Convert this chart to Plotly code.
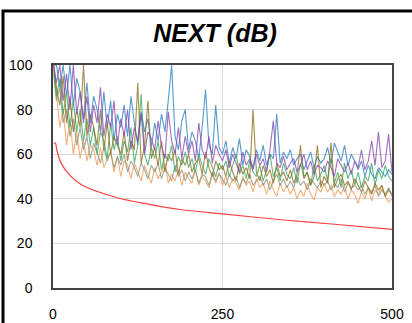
import plotly.graph_objects as go

# Frequency grid (MHz)
FREQ = [1] + list(range(5, 501, 5))

ORANGE = [100, 88, 72, 80, 64, 76, 60, 70, 58, 66,
          57, 64, 62, 55, 63, 54, 58, 61, 52, 59,
          50, 57, 55, 49, 56, 52, 48, 55, 51, 47,
          54, 49, 52, 56, 47, 51, 48, 53, 46, 52,
          49, 47, 53, 46, 50, 48, 45, 51, 47, 52,
          46, 50, 45, 49, 47, 44, 50, 46, 48, 43,
          49, 45, 47, 42, 48, 44, 41, 47, 43, 46,
          42, 45, 40, 44, 41, 47, 42, 39.5, 45, 43,
          47, 43, 46, 41, 44, 42, 46, 40, 44, 42,
          38, 43, 40, 45, 39, 44, 42, 46, 41, 38.5,
          40]

BLUE = [100, 100, 90, 100, 86, 100, 82, 94, 88, 76,
        92, 74, 86, 80, 70, 88, 72, 84, 66, 78,
        72, 82, 68, 86, 74, 64, 79, 70, 76, 63,
        74, 66, 78, 70, 84, 100, 68, 62, 75, 80,
        62, 70, 66, 58, 72, 89, 64, 60, 82, 63,
        60, 66, 56, 63, 58, 67, 55, 62, 59, 54,
        62, 57, 64, 55, 60, 58, 78, 56, 61, 58,
        62, 55, 58, 60, 53, 57, 61, 54, 59, 56,
        58, 63, 56, 65, 61, 57, 64, 55, 60, 57,
        53, 57, 50, 55, 51, 49, 54, 52, 50, 53,
        51]

PURPLE = [100, 92, 100, 84, 96, 80, 100, 78, 88, 74,
          86, 70, 82, 74, 90, 68, 78, 72, 84, 64,
          76, 68, 80, 62, 72, 66, 78, 60, 70, 67,
          62, 75, 64, 58, 79, 66, 60, 72, 58, 68,
          60, 66, 57, 74, 62, 58, 68, 56, 64, 60,
          57, 62, 54, 60, 56, 52, 61, 55, 58, 53,
          60, 55, 58, 52, 62, 75, 56, 54, 59, 53,
          56, 58, 52, 55, 60, 53, 57, 51, 55, 54,
          52, 57, 54, 50, 58, 55, 52, 56, 51, 57,
          54, 62, 53, 57, 66, 55, 70, 54, 57, 69,
          52]

GREEN = [98, 86, 94, 78, 88, 72, 84, 70, 80, 66,
         76, 64, 72, 60, 70, 66, 58, 74, 62, 68,
         57, 66, 61, 72, 56, 64, 87, 60, 55, 63,
         58, 66, 53, 60, 57, 64, 52, 59, 55, 61,
         54, 58, 52, 60, 55, 51, 58, 54, 50, 56,
         53, 57, 50, 55, 60, 51, 55, 49, 57, 52,
         50, 55, 48, 53, 60, 50, 54, 48, 56, 51,
         49, 54, 47, 56, 50, 52, 46, 55, 48, 51,
         55, 48, 58, 47, 52, 45, 56, 49, 53, 46,
         52, 45, 50, 48, 56, 46, 53, 49, 55, 50,
         48]

OLIVE = [100, 90, 82, 95, 74, 86, 70, 80, 72, 100,
         68, 78, 72, 64, 80, 62, 74, 60, 68, 64,
         60, 70, 57, 66, 62, 92, 56, 64, 84, 58,
         63, 55, 66, 52, 60, 57, 62, 51, 58, 55,
         60, 52, 56, 58, 51, 61, 54, 50, 57, 53,
         55, 50, 57, 52, 48, 56, 51, 54, 49, 80,
         52, 48, 55, 50, 53, 47, 56, 50, 52, 48,
         53, 47, 51, 64, 49, 52, 46, 50, 64, 45,
         50, 47, 65, 45, 49, 51, 46, 48, 44, 49,
         46, 43, 48, 45, 42, 47, 44, 46, 41, 44,
         42]

GRAY = [96, 84, 90, 74, 80, 68, 76, 64, 72, 62,
        68, 58, 65, 60, 56, 63, 57, 61, 54, 59,
        55, 60, 52, 57, 54, 50, 56, 53, 49, 55,
        52, 56, 49, 54, 51, 48, 55, 50, 53, 48,
        52, 49, 53, 47, 51, 50, 46, 52, 48, 51,
        49, 46, 51, 48, 50, 45, 49, 47, 51, 46,
        48, 50, 46, 49, 44, 48, 51, 46, 49, 45,
        48, 45, 50, 46, 48, 44, 49, 47, 45, 48,
        46, 48, 44, 47, 45, 49, 43, 47, 45, 46,
        44, 46, 42, 45, 43, 46, 41, 44, 42, 45,
        41]

LIMIT_F = [1, 3.4, 6, 12, 25, 42, 91, 140, 190, 250, 337, 411, 500]
LIMIT_DB = [65, 65, 61.5, 56, 50.5, 46.3, 40.8, 37.6, 35.1, 33.2, 30.6, 28.7, 26.3]

Y_TICKS = [0, 20, 40, 60, 80, 100]
X_TICKS = [0, 250, 500]

series = [
    (BLUE, "#2a7fc4"),
    (ORANGE, "#f39a55"),
    (GRAY, "#8c9378"),
    (GREEN, "#35a860"),
    (OLIVE, "#8f6e1c"),
    (PURPLE, "#8a45b0"),
]

fig = go.Figure()
for vals, col in series:
    fig.add_trace(go.Scatter(x=FREQ, y=vals, mode="lines",
                             line=dict(color=col, width=1.1),
                             opacity=0.78, showlegend=False, hoverinfo="skip"))
fig.add_trace(go.Scatter(x=LIMIT_F, y=LIMIT_DB, mode="lines",
                         line=dict(color="#ff4040", width=1.2, shape="spline"),
                         showlegend=False, hoverinfo="skip"))

L, R, T, B = 53, 20, 65, 35
W, H = 412, 323
pw, ph = W - L - R, H - T - B

def px_to_paper_x(px):
    return (px - L) / pw

def py_to_paper_y(py):
    return (H - B - py) / ph

fig.update_layout(
    width=W, height=H,
    margin=dict(l=L, r=R, t=T, b=B, autoexpand=False),
    paper_bgcolor="white", plot_bgcolor="white",
    title=dict(text="<b><i>NEXT (dB)</i></b>", x=px_to_paper_x(215), xref="paper",
               xanchor="center", y=1 - 33 / H, yanchor="middle",
               font=dict(family="Liberation Sans", size=25, color="black")),
    font=dict(family="Liberation Sans", size=14, color="black"),
    xaxis=dict(range=[0, 500], tickvals=X_TICKS, showgrid=True, gridcolor="#d9d9d9",
               gridwidth=1, showline=True, linecolor="#444", linewidth=1.5, mirror=True,
               zeroline=False, ticks="", ticklabelstandoff=12, automargin=False),
    yaxis=dict(range=[0, 100], tickvals=Y_TICKS, showgrid=True, gridcolor="#d9d9d9",
               gridwidth=1, showline=True, linecolor="#444", linewidth=1.5, mirror=True,
               zeroline=False, ticks="", ticklabelstandoff=16, automargin=False),
    shapes=[
        dict(type="path", xref="paper", yref="paper",
             path=f"M {px_to_paper_x(3)} {py_to_paper_y(H + 5)} L {px_to_paper_x(3)} {py_to_paper_y(11)} L {px_to_paper_x(W + 5)} {py_to_paper_y(11)}",
             line=dict(color="black", width=3)),
    ],
)

fig.write_html("out.html", config={"displayModeBar": False},
               post_script="document.body.style.margin='0';document.body.style.overflow='hidden';")
